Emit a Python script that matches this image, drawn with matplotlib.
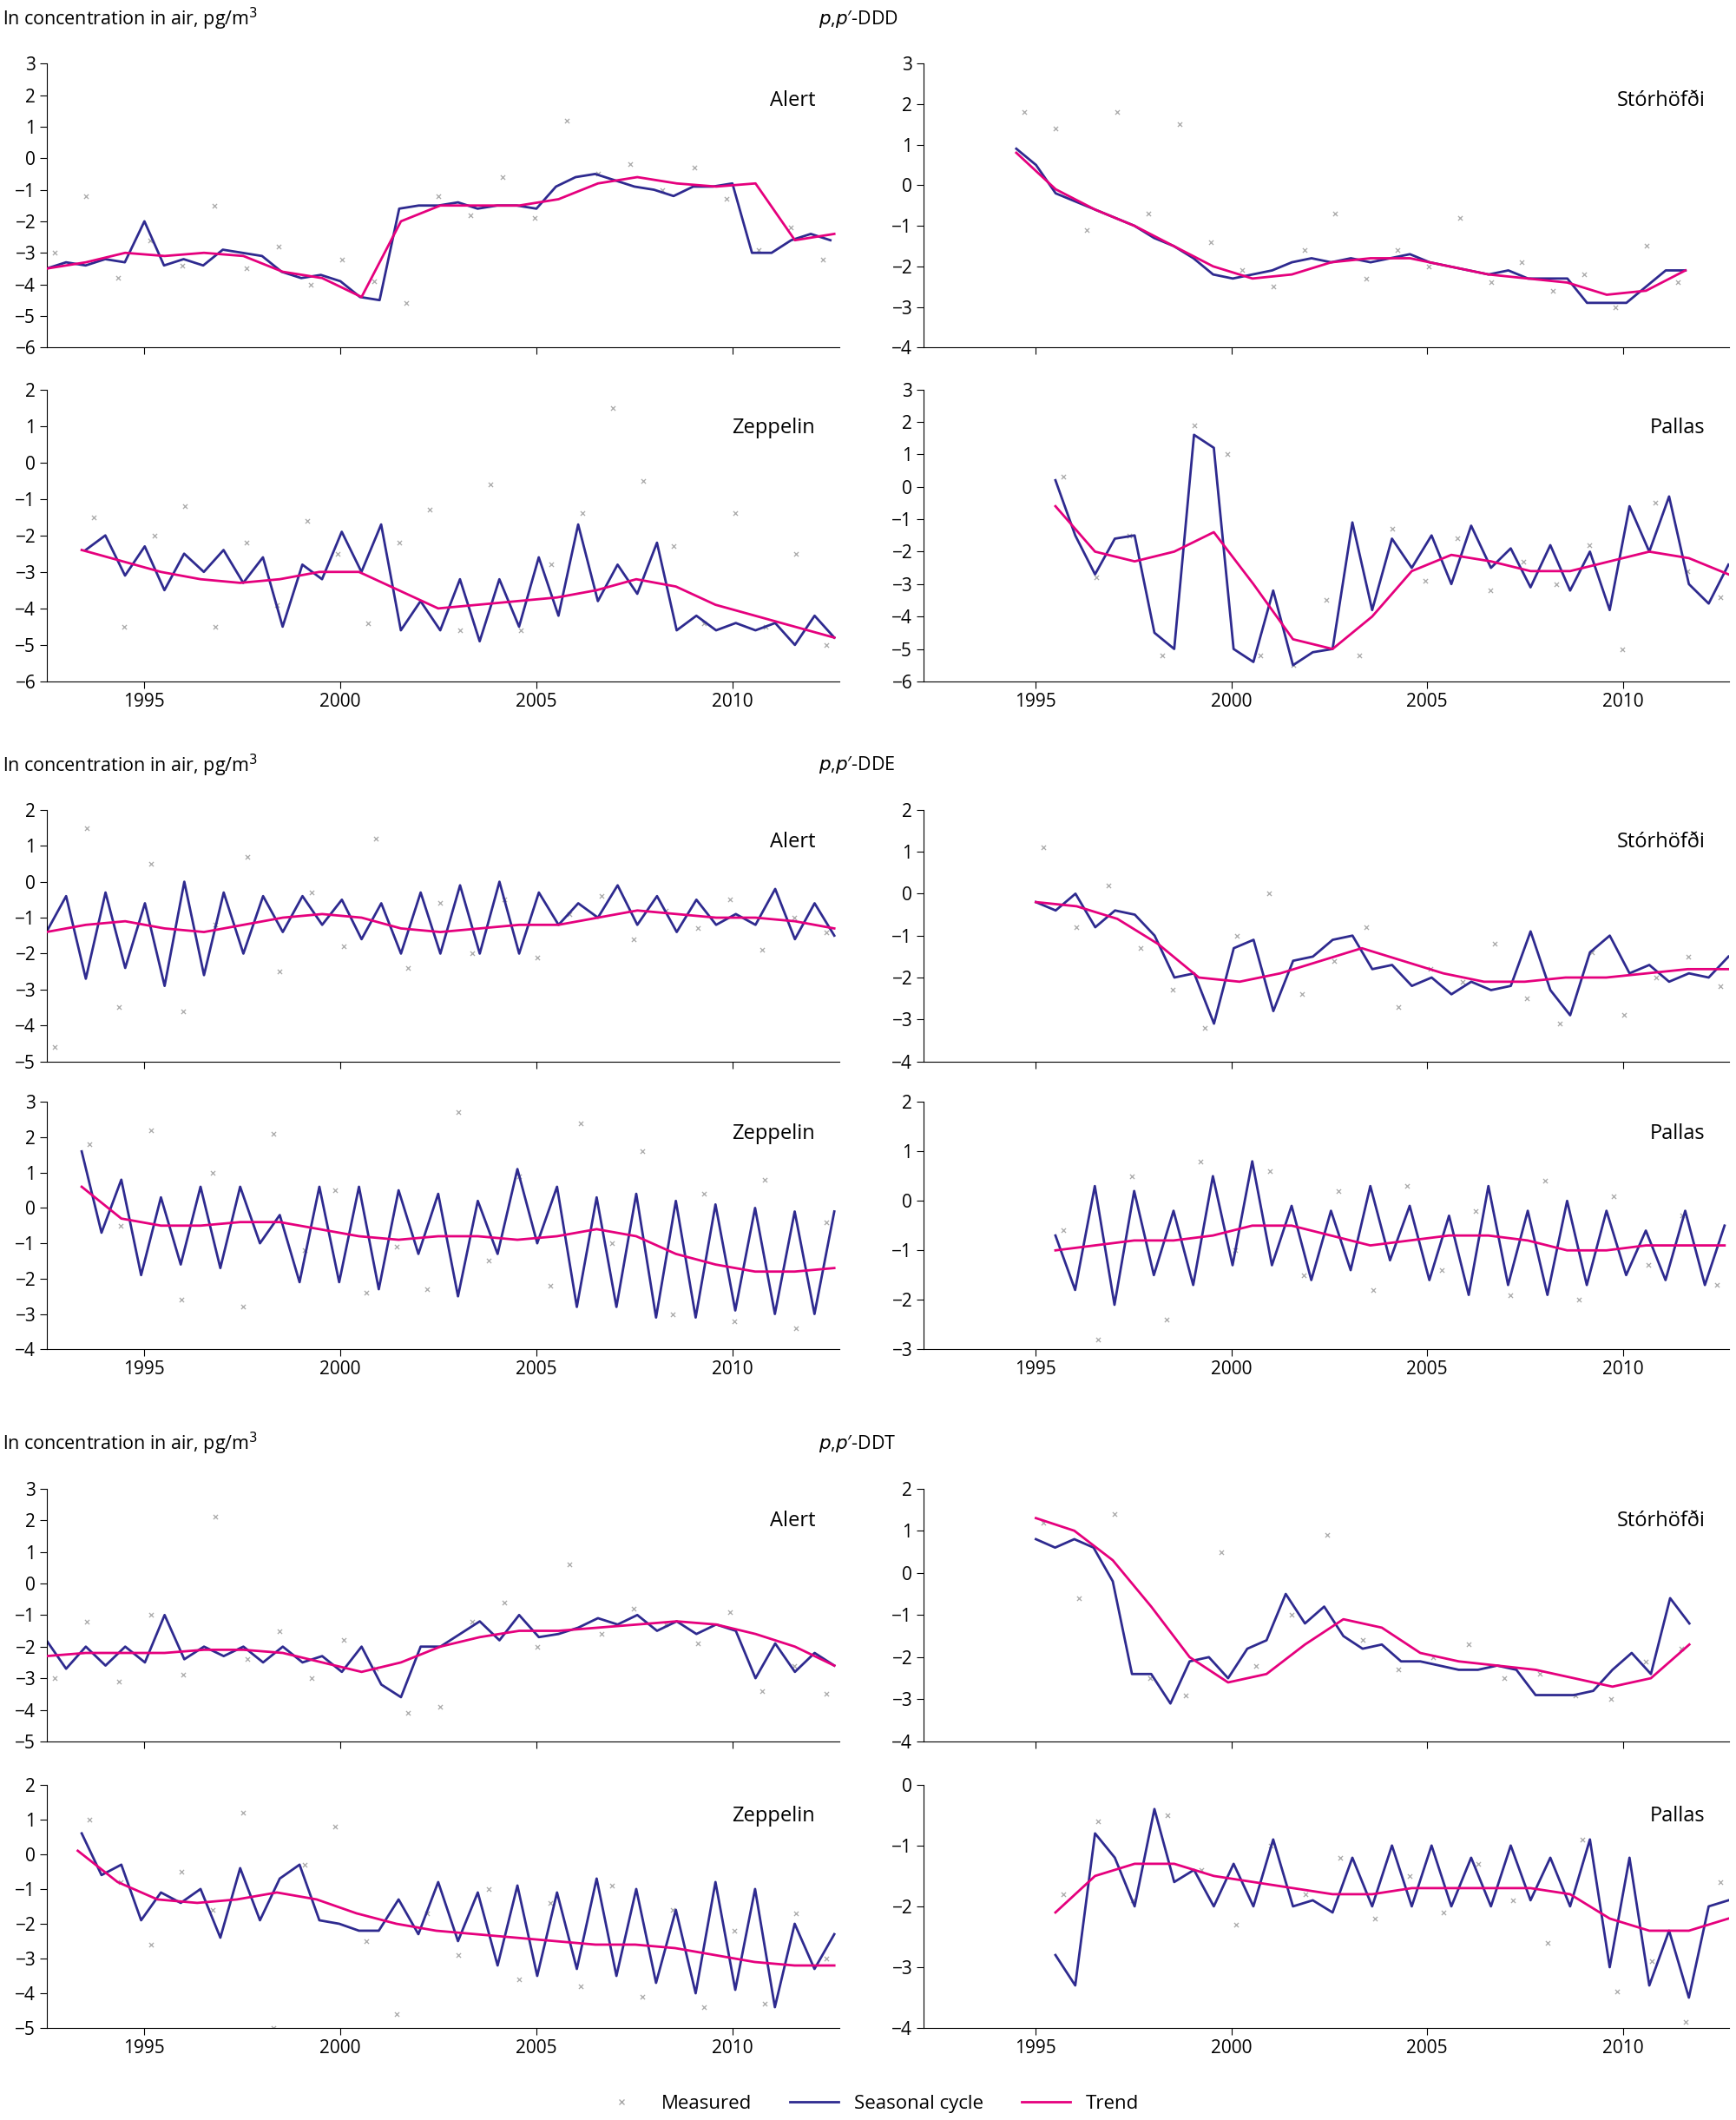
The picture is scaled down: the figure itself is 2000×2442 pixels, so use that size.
import matplotlib.pyplot as plt
import numpy as np
from matplotlib.lines import Line2D

NAVY = '#2e2a8f'
PINK = '#e5007d'
GREY = '#a8a8a8'

# ---------------- p,p'-DDD ----------------
ddd_alert_seas = [-3.5, -3.3, -3.4, -3.2, -3.3, -2.0, -3.4, -3.2, -3.4, -2.9, -3.0, -3.1, -3.6, -3.8, -3.7, -3.9,
                  -4.4, -4.5, -1.6, -1.5, -1.5, -1.4, -1.6, -1.5, -1.5, -1.6, -0.9, -0.6, -0.5, -0.7, -0.9, -1.0,
                  -1.2, -0.9, -0.9, -0.8, -3.0, -3.0, -2.6, -2.4, -2.6]
ddd_alert_trend = [-3.5, -3.3, -3.0, -3.1, -3.0, -3.1, -3.6, -3.8, -4.4, -2.0, -1.5, -1.5, -1.5, -1.3, -0.8,
                   -0.6, -0.8, -0.9, -0.8, -2.6, -2.4]
ddd_alert_meas = [-3.0, -1.2, -3.8, -2.6, -3.4, -1.5, -3.5, -2.8, -4.0, -3.2, -3.9, -4.6, -1.2, -1.8, -0.6,
                  -1.9, 1.2, -0.5, -0.2, -1.0, -0.3, -1.3, -2.9, -2.2, -3.2]
ddd_stor_seas = [0.9, 0.5, -0.2, -0.4, -0.6, -0.8, -1.0, -1.3, -1.5, -1.8, -2.2, -2.3, -2.2, -2.1, -1.9, -1.8,
                 -1.9, -1.8, -1.9, -1.8, -1.7, -1.9, -2.0, -2.1, -2.2, -2.1, -2.3, -2.3, -2.3, -2.9, -2.9, -2.9,
                 -2.5, -2.1, -2.1]
ddd_stor_trend = [0.8, -0.1, -0.6, -1.0, -1.5, -2.0, -2.3, -2.2, -1.9, -1.8, -1.8, -2.0, -2.2, -2.3, -2.4,
                  -2.7, -2.6, -2.1]
ddd_stor_meas = [1.8, 1.4, -1.1, 1.8, -0.7, 1.5, -1.4, -2.1, -2.5, -1.6, -0.7, -2.3, -1.6, -2.0, -0.8, -2.4,
                 -1.9, -2.6, -2.2, -3.0, -1.5, -2.4]
ddd_zep_seas = [-2.4, -2.0, -3.1, -2.3, -3.5, -2.5, -3.0, -2.4, -3.3, -2.6, -4.5, -2.8, -3.2, -1.9, -3.0, -1.7,
                -4.6, -3.8, -4.6, -3.2, -4.9, -3.2, -4.5, -2.6, -4.2, -1.7, -3.8, -2.8, -3.6, -2.2, -4.6, -4.2,
                -4.6, -4.4, -4.6, -4.4, -5.0, -4.2, -4.8]
ddd_zep_trend = [-2.4, -2.7, -3.0, -3.2, -3.3, -3.2, -3.0, -3.0, -3.5, -4.0, -3.9, -3.8, -3.7, -3.5, -3.2,
                 -3.4, -3.9, -4.2, -4.5, -4.8]
ddd_zep_meas = [-1.5, -4.5, -2.0, -1.2, -4.5, -2.2, -3.9, -1.6, -2.5, -4.4, -2.2, -1.3, -4.6, -0.6, -4.6, -2.8,
                -1.4, 1.5, -0.5, -2.3, -4.4, -1.4, -4.5, -2.5, -5.0]
ddd_pal_seas = [0.2, -1.5, -2.7, -1.6, -1.5, -4.5, -5.0, 1.6, 1.2, -5.0, -5.4, -3.2, -5.5, -5.1, -5.0, -1.1,
                -3.8, -1.6, -2.5, -1.5, -3.0, -1.2, -2.5, -1.9, -3.1, -1.8, -3.2, -2.0, -3.8, -0.6, -2.0, -0.3,
                -3.0, -3.6, -2.4]
ddd_pal_trend = [-0.6, -2.0, -2.3, -2.0, -1.4, -3.0, -4.7, -5.0, -4.0, -2.6, -2.1, -2.3, -2.6, -2.6, -2.3,
                 -2.0, -2.2, -2.7]
ddd_pal_meas = [0.3, -2.8, -1.5, -5.2, 1.9, 1.0, -5.2, -5.5, -3.5, -5.2, -1.3, -2.9, -1.6, -3.2, -2.3, -3.0,
                -1.8, -5.0, -0.5, -2.6, -3.4]

# ---------------- p,p'-DDE ----------------
dde_alert_seas = [-1.4, -0.4, -2.7, -0.3, -2.4, -0.6, -2.9, 0.0, -2.6, -0.3, -2.0, -0.4, -1.4, -0.4, -1.2, -0.5,
                  -1.6, -0.6, -2.0, -0.3, -2.0, -0.1, -2.0, 0.0, -2.0, -0.3, -1.2, -0.6, -1.0, -0.1, -1.2, -0.4,
                  -1.4, -0.5, -1.2, -0.9, -1.2, -0.2, -1.6, -0.6, -1.5]
dde_alert_trend = [-1.4, -1.2, -1.1, -1.3, -1.4, -1.2, -1.0, -0.9, -1.0, -1.3, -1.4, -1.3, -1.2, -1.2, -1.0,
                   -0.8, -0.9, -1.0, -1.0, -1.1, -1.3]
dde_alert_meas = [-4.6, 1.5, -3.5, 0.5, -3.6, -1.2, 0.7, -2.5, -0.3, -1.8, 1.2, -2.4, -0.6, -2.0, -0.5, -2.1,
                  -0.9, -0.4, -1.6, -0.8, -1.3, -0.5, -1.9, -1.0, -1.4]
dde_stor_seas = [-0.2, -0.4, 0.0, -0.8, -0.4, -0.5, -1.0, -2.0, -1.9, -3.1, -1.3, -1.1, -2.8, -1.6, -1.5, -1.1,
                 -1.0, -1.8, -1.7, -2.2, -2.0, -2.4, -2.1, -2.3, -2.2, -0.9, -2.3, -2.9, -1.4, -1.0, -1.9, -1.7,
                 -2.1, -1.9, -2.0, -1.5]
dde_stor_trend = [-0.2, -0.3, -0.6, -1.2, -2.0, -2.1, -1.9, -1.6, -1.3, -1.6, -1.9, -2.1, -2.1, -2.0, -2.0,
                  -1.9, -1.8, -1.8]
dde_stor_meas = [1.1, -0.8, 0.2, -1.3, -2.3, -3.2, -1.0, 0.0, -2.4, -1.6, -0.8, -2.7, -1.8, -2.1, -1.2, -2.5,
                 -3.1, -1.4, -2.9, -2.0, -1.5, -2.2]
dde_zep_seas = [1.6, -0.7, 0.8, -1.9, 0.3, -1.6, 0.6, -1.7, 0.6, -1.0, -0.2, -2.1, 0.6, -2.1, 0.6, -2.3, 0.5,
                -1.3, 0.4, -2.5, 0.2, -1.3, 1.1, -1.0, 0.6, -2.8, 0.3, -2.8, 0.4, -3.1, 0.2, -3.1, 0.1, -2.9,
                0.0, -3.0, -0.1, -3.0, -0.1]
dde_zep_trend = [0.6, -0.3, -0.5, -0.5, -0.4, -0.4, -0.6, -0.8, -0.9, -0.8, -0.8, -0.9, -0.8, -0.6, -0.8,
                 -1.3, -1.6, -1.8, -1.8, -1.7]
dde_zep_meas = [1.8, -0.5, 2.2, -2.6, 1.0, -2.8, 2.1, -1.2, 0.5, -2.4, -1.1, -2.3, 2.7, -1.5, 0.9, -2.2, 2.4,
                -1.0, 1.6, -3.0, 0.4, -3.2, 0.8, -3.4, -0.4]
dde_pal_seas = [-0.7, -1.8, 0.3, -2.1, 0.2, -1.5, -0.2, -1.7, 0.5, -1.3, 0.8, -1.3, -0.1, -1.6, -0.2, -1.4, 0.3,
                -1.2, -0.1, -1.6, -0.3, -1.9, 0.3, -1.7, -0.2, -1.9, 0.0, -1.7, -0.2, -1.5, -0.6, -1.6, -0.2,
                -1.7, -0.5]
dde_pal_trend = [-1.0, -0.9, -0.8, -0.8, -0.7, -0.5, -0.5, -0.7, -0.9, -0.8, -0.7, -0.7, -0.8, -1.0, -1.0,
                 -0.9, -0.9, -0.9]
dde_pal_meas = [-0.6, -2.8, 0.5, -2.4, 0.8, -1.0, 0.6, -1.5, 0.2, -1.8, 0.3, -1.4, -0.2, -1.9, 0.4, -2.0, 0.1,
                -1.3, -0.3, -1.7]

# ---------------- p,p'-DDT ----------------
ddt_alert_seas = [-1.8, -2.7, -2.0, -2.6, -2.0, -2.5, -1.0, -2.4, -2.0, -2.3, -2.0, -2.5, -2.0, -2.5, -2.3, -2.8,
                  -2.0, -3.2, -3.6, -2.0, -2.0, -1.6, -1.2, -1.8, -1.0, -1.7, -1.6, -1.4, -1.1, -1.3, -1.0, -1.5,
                  -1.2, -1.6, -1.3, -1.5, -3.0, -1.9, -2.8, -2.2, -2.6]
ddt_alert_trend = [-2.3, -2.2, -2.2, -2.2, -2.1, -2.1, -2.2, -2.5, -2.8, -2.5, -2.0, -1.7, -1.5, -1.5, -1.4,
                   -1.3, -1.2, -1.3, -1.6, -2.0, -2.6]
ddt_alert_meas = [-3.0, -1.2, -3.1, -1.0, -2.9, 2.1, -2.4, -1.5, -3.0, -1.8, -2.7, -4.1, -3.9, -1.2, -0.6,
                  -2.0, 0.6, -1.6, -0.8, -1.3, -1.9, -0.9, -3.4, -2.6, -3.5]
ddt_stor_seas = [0.8, 0.6, 0.8, 0.6, -0.2, -2.4, -2.4, -3.1, -2.1, -2.0, -2.5, -1.8, -1.6, -0.5, -1.2, -0.8,
                 -1.5, -1.8, -1.7, -2.1, -2.1, -2.2, -2.3, -2.3, -2.2, -2.3, -2.9, -2.9, -2.9, -2.8, -2.3, -1.9,
                 -2.4, -0.6, -1.2]
ddt_stor_trend = [1.3, 1.0, 0.3, -0.8, -2.0, -2.6, -2.4, -1.7, -1.1, -1.3, -1.9, -2.1, -2.2, -2.3, -2.5,
                  -2.7, -2.5, -1.7]
ddt_stor_meas = [1.2, -0.6, 1.4, -2.5, -2.9, 0.5, -2.2, -1.0, 0.9, -1.6, -2.3, -2.0, -1.7, -2.5, -2.4, -2.9,
                 -3.0, -2.1, -1.8]
ddt_zep_seas = [0.6, -0.6, -0.3, -1.9, -1.1, -1.4, -1.0, -2.4, -0.4, -1.9, -0.7, -0.3, -1.9, -2.0, -2.2, -2.2,
                -1.3, -2.3, -0.8, -2.5, -1.1, -3.2, -0.9, -3.5, -1.1, -3.3, -0.7, -3.5, -1.0, -3.7, -1.6, -4.0,
                -0.8, -3.9, -1.0, -4.4, -2.0, -3.3, -2.3]
ddt_zep_trend = [0.1, -0.8, -1.3, -1.4, -1.3, -1.1, -1.3, -1.7, -2.0, -2.2, -2.3, -2.4, -2.5, -2.6, -2.6,
                 -2.7, -2.9, -3.1, -3.2, -3.2]
ddt_zep_meas = [1.0, -0.8, -2.6, -0.5, -1.6, 1.2, -5.0, -0.3, 0.8, -2.5, -4.6, -1.7, -2.9, -1.0, -3.6, -1.4,
                -3.8, -0.9, -4.1, -1.6, -4.4, -2.2, -4.3, -1.7, -3.0]
ddt_pal_seas = [-2.8, -3.3, -0.8, -1.2, -2.0, -0.4, -1.6, -1.4, -2.0, -1.3, -2.0, -0.9, -2.0, -1.9, -2.1, -1.2,
                -2.0, -1.0, -2.0, -1.0, -2.0, -1.2, -2.0, -1.0, -1.9, -1.2, -2.0, -0.9, -3.0, -1.2, -3.3, -2.4,
                -3.5, -2.0, -1.9]
ddt_pal_trend = [-2.1, -1.5, -1.3, -1.3, -1.5, -1.6, -1.7, -1.8, -1.8, -1.7, -1.7, -1.7, -1.7, -1.8, -2.2,
                 -2.4, -2.4, -2.2]
ddt_pal_meas = [-1.8, -0.6, -1.9, -0.5, -1.4, -2.3, -1.0, -1.8, -1.2, -2.2, -1.5, -2.1, -1.3, -1.9, -2.6, -0.9,
                -3.4, -2.9, -3.9, -1.6]

# station, seasonal, trend, measured, seasonal span, trend span, y-limits
panels = [
    [('Alert', ddd_alert_seas, ddd_alert_trend, ddd_alert_meas, (1992.5, 2012.5), (1992.5, 2012.6), (-6, 3)),
     ('Stórhöfði', ddd_stor_seas, ddd_stor_trend, ddd_stor_meas, (1994.5, 2011.6), (1994.5, 2011.6), (-4, 3)),
     ('Zeppelin', ddd_zep_seas, ddd_zep_trend, ddd_zep_meas, (1993.5, 2012.6), (1993.4, 2012.6), (-6, 2)),
     ('Pallas', ddd_pal_seas, ddd_pal_trend, ddd_pal_meas, (1995.5, 2012.7), (1995.5, 2012.7), (-6, 3))],
    [('Alert', dde_alert_seas, dde_alert_trend, dde_alert_meas, (1992.5, 2012.6), (1992.5, 2012.6), (-5, 2)),
     ('Stórhöfði', dde_stor_seas, dde_stor_trend, dde_stor_meas, (1995.0, 2012.7), (1995.0, 2012.7), (-4, 2)),
     ('Zeppelin', dde_zep_seas, dde_zep_trend, dde_zep_meas, (1993.4, 2012.6), (1993.4, 2012.6), (-4, 3)),
     ('Pallas', dde_pal_seas, dde_pal_trend, dde_pal_meas, (1995.5, 2012.6), (1995.5, 2012.6), (-3, 2))],
    [('Alert', ddt_alert_seas, ddt_alert_trend, ddt_alert_meas, (1992.5, 2012.6), (1992.5, 2012.6), (-5, 3)),
     ('Stórhöfði', ddt_stor_seas, ddt_stor_trend, ddt_stor_meas, (1995.0, 2011.7), (1995.0, 2011.7), (-4, 2)),
     ('Zeppelin', ddt_zep_seas, ddt_zep_trend, ddt_zep_meas, (1993.4, 2012.6), (1993.3, 2012.6), (-5, 2)),
     ('Pallas', ddt_pal_seas, ddt_pal_trend, ddt_pal_meas, (1995.5, 2012.7), (1995.5, 2012.7), (-4, 0))],
]
compounds = ['DDD', 'DDE', 'DDT']

plt.rcParams['font.family'] = ['Open Sans', 'DejaVu Sans']
fig = plt.figure(figsize=(20, 24.42), dpi=100)

H = 1568.0
W = 1287.0
# pixel rows (reference scale) for top/bottom axes of each block
rows = [((47, 257), (288, 504)), ((599, 785), (815, 998)), ((1101, 1288), (1320, 1500))]
cols = [(35, 622, 1992.52, 2012.72), (685, 1282, 1992.14, 2012.72)]
heads = [14, 566, 1068]

for b, block in enumerate(panels):
    fig.text(2 / W, 1 - heads[b] / H, 'ln concentration in air, pg/m$^3$', fontsize=15.5, va='center')
    fig.text(607 / W, 1 - heads[b] / H, "$p$,$p$\u2032-" + compounds[b], fontsize=15.5, va='center')
    for k, (name, seas, trend, meas, sspan, tspan, ylim) in enumerate(block):
        r, c = k // 2, k % 2
        y0, y1 = rows[b][r]
        x0, x1, xa, xb = cols[c]
        ax = fig.add_axes([x0 / W, 1 - y1 / H, (x1 - x0) / W, (y1 - y0) / H])
        xs = np.linspace(sspan[0], sspan[1], len(seas))
        xt = np.linspace(tspan[0], tspan[1], len(trend))
        xm = np.linspace(sspan[0] + 0.2, sspan[1] - 0.2, len(meas))
        ax.scatter(xm, meas, marker='x', s=14, color=GREY, linewidths=0.9, zorder=1)
        ax.plot(xs, seas, color=NAVY, lw=2.0, zorder=2)
        ax.plot(xt, trend, color=PINK, lw=2.0, zorder=3)
        ax.set_xlim(xa, xb)
        ax.set_ylim(*ylim)
        ax.set_yticks(range(ylim[0], ylim[1] + 1))
        ax.set_xticks([1995, 2000, 2005, 2010])
        ax.spines['top'].set_visible(False)
        ax.spines['right'].set_visible(False)
        ax.tick_params(labelsize=15, direction='out', length=6)
        if r == 0:
            ax.set_xticklabels([])
        ax.text(0.97, 0.85, name, transform=ax.transAxes, ha='right', fontsize=17)

# legend
handles = [Line2D([], [], marker='x', color=GREY, ls='none', markersize=5),
           Line2D([], [], color=NAVY, lw=2),
           Line2D([], [], color=PINK, lw=2)]
fig.legend(handles, ['Measured', 'Seasonal cycle', 'Trend'], loc='center', ncol=3,
           bbox_to_anchor=(0.5, 1 - 1556 / H), frameon=False, fontsize=16, handlelength=2.5)

fig.savefig('out.png', dpi=100)
